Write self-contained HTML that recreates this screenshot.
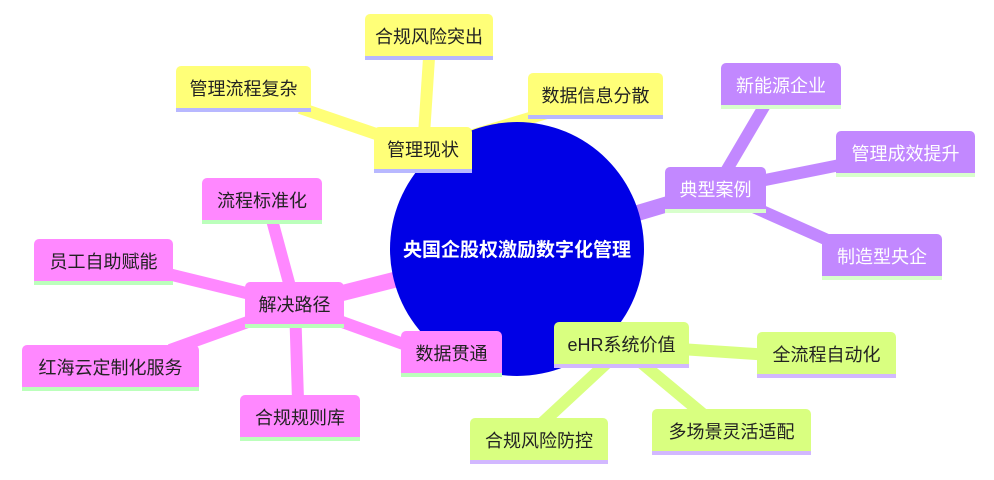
<!DOCTYPE html>
<html><head><meta charset="utf-8"><style>
html,body{margin:0;padding:0;background:#fff;}
#c{position:relative;width:994px;height:480px;overflow:hidden;font-family:"Liberation Sans","Noto Sans CJK SC",sans-serif;}
.n{position:absolute;box-sizing:border-box;display:flex;align-items:center;justify-content:center;font-size:18px;border-radius:5px 5px 0 0;border-bottom:4px solid;padding-top:2px;}
.y{background:#ffff78;border-color:#b8b8ff;color:#222;}
.p{background:#c288ff;border-color:#d8ffcc;color:#fff;}
.k{background:#ff88ff;border-color:#bbffbb;color:#222;}
.g{background:#d9ff80;border-color:#d2b8ff;color:#222;}
svg{position:absolute;left:0;top:0;}
</style></head><body><div id="c">
<svg width="994" height="480">
<g stroke-linecap="butt">
<g stroke="#ffff78">
<line x1="423" y1="150" x2="517" y2="249" stroke-width="16"/>
<line x1="423" y1="150" x2="429" y2="58" stroke-width="12"/>
<line x1="423" y1="150" x2="300" y2="108" stroke-width="12"/>
<line x1="423" y1="150" x2="550" y2="112" stroke-width="12"/>
</g>
<g stroke="#c288ff">
<line x1="715" y1="190" x2="517" y2="249" stroke-width="16"/>
<line x1="715" y1="190" x2="765" y2="105" stroke-width="12"/>
<line x1="715" y1="190" x2="850" y2="163" stroke-width="12"/>
<line x1="715" y1="190" x2="850" y2="250" stroke-width="12"/>
</g>
<g stroke="#ff88ff">
<line x1="295" y1="305" x2="517" y2="249" stroke-width="16"/>
<line x1="295" y1="305" x2="272" y2="220" stroke-width="12"/>
<line x1="295" y1="305" x2="160" y2="272" stroke-width="12"/>
<line x1="295" y1="305" x2="170" y2="350" stroke-width="12"/>
<line x1="295" y1="305" x2="298" y2="400" stroke-width="12"/>
<line x1="295" y1="305" x2="420" y2="350" stroke-width="12"/>
</g>
<g stroke="#d9ff80">
<line x1="620" y1="345" x2="517" y2="249" stroke-width="16"/>
<line x1="620" y1="345" x2="770" y2="355" stroke-width="12"/>
<line x1="620" y1="345" x2="710" y2="420" stroke-width="12"/>
<line x1="610" y1="360" x2="540" y2="425" stroke-width="12"/>
</g>
</g>
<circle cx="517" cy="249" r="127" fill="#0000e6"/>
<text x="517" y="256" fill="#fff" font-size="19" font-weight="bold" text-anchor="middle" font-family="Liberation Sans, Noto Sans CJK SC, sans-serif">央国企股权激励数字化管理</text>
</svg>
<div class="n y" style="left:365px;top:14px;width:128px;height:46px">合规风险突出</div>
<div class="n y" style="left:176px;top:66px;width:135px;height:46px">管理流程复杂</div>
<div class="n y" style="left:528px;top:73px;width:135px;height:46px">数据信息分散</div>
<div class="n y" style="left:374px;top:127px;width:98px;height:46px">管理现状</div>
<div class="n p" style="left:665px;top:167px;width:101px;height:46px">典型案例</div>
<div class="n p" style="left:721px;top:63px;width:120px;height:46px">新能源企业</div>
<div class="n p" style="left:836px;top:131px;width:139px;height:46px">管理成效提升</div>
<div class="n p" style="left:822px;top:234px;width:120px;height:46px">制造型央企</div>
<div class="n k" style="left:245px;top:282px;width:99px;height:46px">解决路径</div>
<div class="n k" style="left:202px;top:178px;width:120px;height:46px">流程标准化</div>
<div class="n k" style="left:34px;top:239px;width:139px;height:46px">员工自助赋能</div>
<div class="n k" style="left:22px;top:345px;width:177px;height:46px">红海云定制化服务</div>
<div class="n k" style="left:240px;top:395px;width:120px;height:46px">合规规则库</div>
<div class="n k" style="left:401px;top:331px;width:101px;height:46px">数据贯通</div>
<div class="n g" style="left:554px;top:322px;width:135px;height:46px">eHR系统价值</div>
<div class="n g" style="left:757px;top:332px;width:139px;height:46px">全流程自动化</div>
<div class="n g" style="left:652px;top:409px;width:159px;height:46px">多场景灵活适配</div>
<div class="n g" style="left:470px;top:418px;width:138px;height:46px">合规风险防控</div>
</div></body></html>
